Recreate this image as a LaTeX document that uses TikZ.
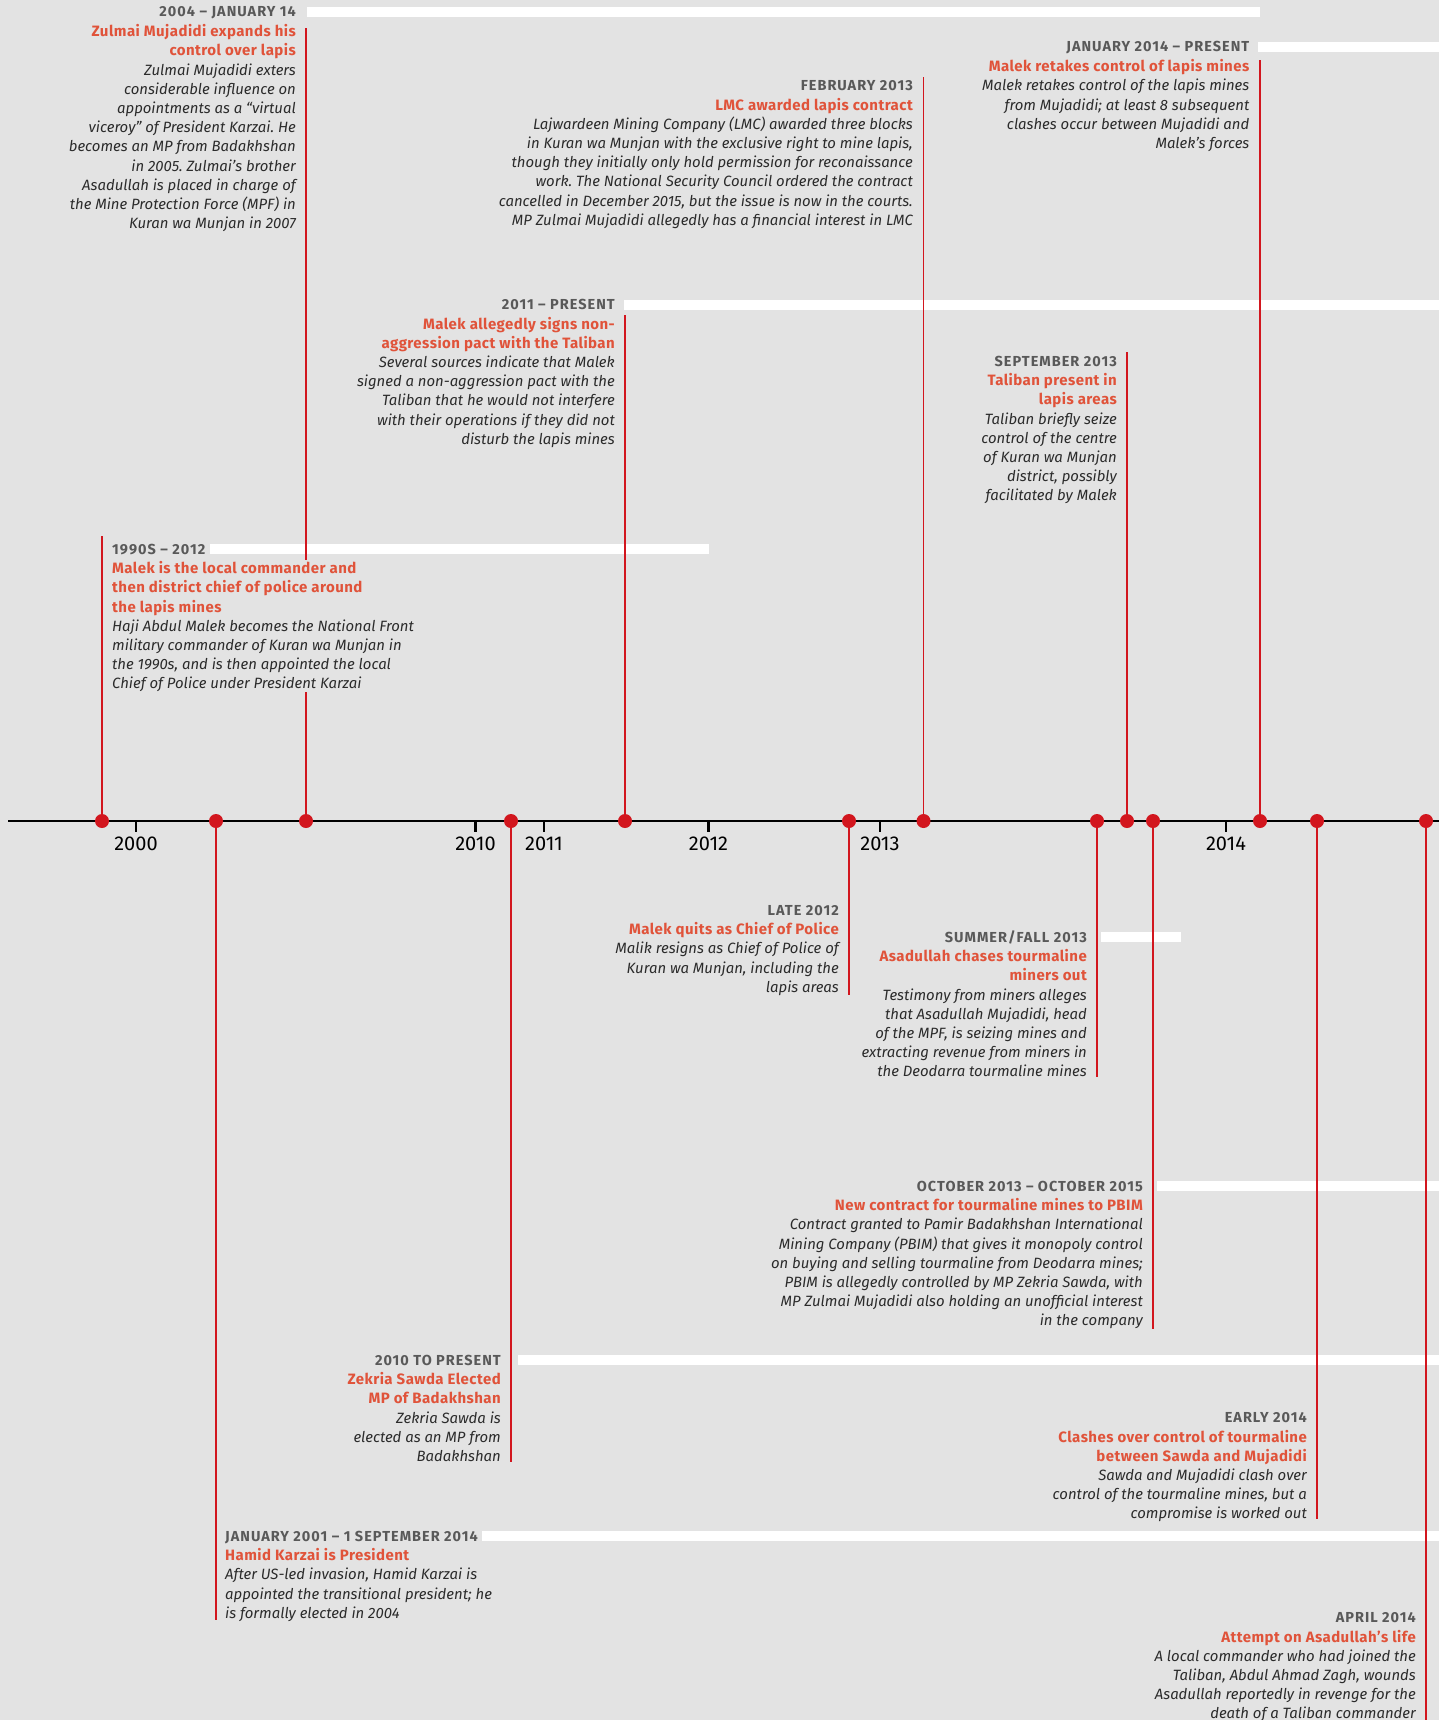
\documentclass[tikz,border=0pt]{standalone}
\usepackage{fontspec}
\setmainfont{Fira Sans}
\usetikzlibrary{positioning}

\definecolor{paper}{HTML}{E3E3E3}
\definecolor{dotred}{HTML}{D2161E}
\definecolor{titlered}{HTML}{E0533A}
\definecolor{headgray}{HTML}{595959}
\definecolor{bodygray}{HTML}{2B2B2B}

\frenchspacing
\newcommand{\evtitle}[1]{{\color{titlered}\fontsize{15}{19.2}\selectfont\upshape\bfseries\addfontfeatures{LetterSpace=3}#1}}

\tikzset{
  evdot/.style={circle,fill=dotred,minimum size=14pt,inner sep=0pt},
  stem/.style={draw=dotred,line width=1.3pt},
  span/.style={draw=white,line width=10pt},
  datehead/.style={inner sep=0pt,text=headgray,text height=10pt,text depth=0pt,
    font=\fontsize{14.5}{19.2}\selectfont\bfseries\addfontfeatures{LetterSpace=7}},
  blurb/.style={inner sep=0pt,text=bodygray,
    font=\fontsize{14.9}{19.2}\selectfont\itshape},
  tick/.style={line width=2.3pt},
  yearlbl/.style={inner sep=0pt,font=\fontsize{20}{22}\selectfont}
}

\begin{document}
\begin{tikzpicture}[x=1pt,y=-1pt]
        %% Background
        \fill[paper] (0,0) rectangle (1439,1720);
        \useasboundingbox (0,0) rectangle (1439,1720);
        \coordinate (rim) at (1439,0);
        %% Axis
        \draw[line width=2.5pt] (8,821) -- (1439,821);
        \coordinate (t2000) at (136,821);
        \coordinate (t2010) at (475.5,821);
        \coordinate (t2011) at (544,821);
        \coordinate (t2012) at (708.5,821);
        \coordinate (t2013) at (880,821);
        \coordinate (t2014) at (1226,821);
        \draw[tick] (t2000) -- ++(0,11);
        \draw[tick] (t2010) -- ++(0,11);
        \draw[tick] (t2011) -- ++(0,11);
        \draw[tick] (t2012) -- ++(0,11);
        \draw[tick] (t2013) -- ++(0,11);
        \draw[tick] (t2014) -- ++(0,11);
        \node[yearlbl,below=16pt of t2000] (y2000) {2000};
        \node[yearlbl,below=16pt of t2010] (y2010) {2010};
        \node[yearlbl,below=16pt of t2011] (y2011) {2011};
        \node[yearlbl,below=16pt of t2012] (y2012) {2012};
        \node[yearlbl,below=16pt of t2013] (y2013) {2013};
        \node[yearlbl,below=16pt of t2014] (y2014) {2014};
        %% Event dots
        \node[evdot] (dMalek) at (102,821) {};
        \node[evdot] (dKarzai) at (216,821) {};
        \node[evdot] (dZulmai) at (306,821) {};
        \node[evdot] (dSawda) at (511,821) {};
        \node[evdot] (dPact) at (625,821) {};
        \node[evdot] (dQuit) at (849,821) {};
        \node[evdot] (dLMC) at (923.5,821) {};
        \node[evdot] (dChase) at (1097,821) {};
        \node[evdot] (dTaliban) at (1127,821) {};
        \node[evdot] (dPBIM) at (1153,821) {};
        \node[evdot] (dRetake) at (1260,821) {};
        \node[evdot] (dClash) at (1317,821) {};
        \node[evdot] (dAttempt) at (1426,821) {};
        %% Date headers
        \node[datehead,anchor=east] (hZulmai) at (296,12) {2004 – JANUARY 14};
        \node[datehead,anchor=west] (hMalek) at (112,549) {1990S – 2012};
        \node[datehead,anchor=east] (hPact) at (615,304.5) {2011 – PRESENT};
        \node[datehead,anchor=east] (hLMC) at (913,85.5) {FEBRUARY 2013};
        \node[datehead,anchor=east] (hRetake) at (1249.5,47) {JANUARY 2014 – PRESENT};
        \node[datehead,anchor=east] (hTaliban) at (1117,361) {SEPTEMBER 2013};
        \node[datehead,anchor=east] (hQuit) at (839,910) {LATE 2012};
        \node[datehead,anchor=east] (hChase) at (1087,937) {SUMMER/FALL 2013};
        \node[datehead,anchor=east] (hPBIM) at (1143,1186) {OCTOBER 2013 – OCTOBER 2015};
        \node[datehead,anchor=east] (hSawda) at (501,1360) {2010 TO PRESENT};
        \node[datehead,anchor=east] (hClash) at (1307,1417.5) {EARLY 2014};
        \node[datehead,anchor=west] (hKarzai) at (225,1536) {JANUARY 2001 – 1 SEPTEMBER 2014};
        \node[datehead,anchor=east] (hAttempt) at (1416,1617.5) {APRIL 2014};
        %% Spans
        \draw[span] ([xshift=11pt]hZulmai.east) -- (hZulmai.east -| dRetake);
        \draw[span] ([xshift=4.5pt]hMalek.east) -- (hMalek.east -| t2012);
        \draw[span] ([xshift=9pt]hPact.east) -- (hPact.east -| rim);
        \draw[span] ([xshift=8.5pt]hRetake.east) -- (hRetake.east -| rim);
        \draw[span] ([xshift=14pt]hChase.east) -- (hChase.east -| dPBIM) -- ++(28,0);
        \draw[span] ([xshift=14pt]hPBIM.east) -- (hPBIM.east -| rim);
        \draw[span] ([xshift=17pt]hSawda.east) -- (hSawda.east -| rim);
        \draw[span] ([xshift=4pt]hKarzai.east) -- (hKarzai.east -| rim);
        %% Stems
        \coordinate (eZulmai) at (306,28);
        \coordinate (eMalek) at (102,536);
        \coordinate (ePact) at (625,315);
        \coordinate (eLMC) at (923.5,77);
        \coordinate (eRetake) at (1260,60);
        \coordinate (eTaliban) at (1127,352);
        \coordinate (eQuit) at (849,995);
        \coordinate (eChase) at (1097,1077);
        \coordinate (ePBIM) at (1153,1329);
        \coordinate (eSawda) at (511,1462);
        \coordinate (eClash) at (1317,1519);
        \coordinate (eKarzai) at (216,1620);
        \coordinate (eAttempt) at (1426,1720);
        \draw[stem] (dZulmai) -- (eZulmai);
        \draw[stem] (dMalek) -- (eMalek);
        \draw[stem] (dPact) -- (ePact);
        \draw[stem] (dLMC) -- (eLMC);
        \draw[stem] (dRetake) -- (eRetake);
        \draw[stem] (dTaliban) -- (eTaliban);
        \draw[stem] (dQuit) -- (eQuit);
        \draw[stem] (dChase) -- (eChase);
        \draw[stem] (dPBIM) -- (ePBIM);
        \draw[stem] (dSawda) -- (eSawda);
        \draw[stem] (dClash) -- (eClash);
        \draw[stem] (dKarzai) -- (eKarzai);
        \draw[stem] (dAttempt) -- (eAttempt);
        %% Blurbs above the axis
        \node[blurb,align=right,anchor=north east] (tZulmai) at ([yshift=-5.8pt]hZulmai.south east)
            {\strut\evtitle{Zulmai Mujadidi expands his}\\\evtitle{control over lapis}\\
             Zulmai Mujadidi exters\\considerable influence on\\appointments as a “virtual\\
             viceroy” of President Karzai. He\\becomes an MP from Badakhshan\\in 2005. Zulmai’s brother\\
             Asadullah is placed in charge of\\the Mine Protection Force (MPF) in\\Kuran wa Munjan in 2007};
        \node[blurb,align=left,anchor=north west,fill=paper] (tMalek) at ([yshift=-5.8pt]hMalek.south west)
            {\strut\evtitle{Malek is the local commander and}\\\evtitle{then district chief of police around}\\
             \evtitle{the lapis mines}\\Haji Abdul Malek becomes the National Front\\
             military commander of Kuran wa Munjan in\\the 1990s, and is then appointed the local\\
             Chief of Police under President Karzai};
        \node[blurb,align=right,anchor=north east] (tPact) at ([yshift=-5.8pt]hPact.south east)
            {\strut\evtitle{Malek allegedly signs non-}\\\evtitle{aggression pact with the Taliban}\\
             Several sources indicate that Malek\\signed a non-aggression pact with the\\
             Taliban that he would not interfere\\with their operations if they did not\\disturb the lapis mines};
        \node[blurb,align=right,anchor=north east] (tLMC) at ([yshift=-5.8pt]hLMC.south east)
            {\strut\evtitle{LMC awarded lapis contract}\\
             Lajwardeen Mining Company (LMC) awarded three blocks\\
             in Kuran wa Munjan with the exclusive right to mine lapis,\\
             though they initially only hold permission for reconaissance\\
             work. The National Security Council ordered the contract\\
             cancelled in December 2015, but the issue is now in the courts.\\
             MP Zulmai Mujadidi allegedly has a financial interest in LMC};
        \node[blurb,align=right,anchor=north east] (tRetake) at ([yshift=-5.8pt]hRetake.south east)
            {\strut\evtitle{Malek retakes control of lapis mines}\\
             Malek retakes control of the lapis mines\\from Mujadidi; at least 8 subsequent\\
             clashes occur between Mujadidi and\\Malek’s forces};
        \node[blurb,align=right,anchor=north east] (tTaliban) at ([yshift=-5.8pt]hTaliban.south east)
            {\strut\evtitle{Taliban present in}\\\evtitle{lapis areas}\\
             Taliban briefly seize\\control of the centre\\of Kuran wa Munjan\\district, possibly\\facilitated by Malek};
        %% Blurbs below the axis
        \node[blurb,align=right,anchor=north east] (tQuit) at ([yshift=-5.8pt]hQuit.south east)
            {\strut\evtitle{Malek quits as Chief of Police}\\
             Malik resigns as Chief of Police of\\Kuran wa Munjan, including the\\lapis areas};
        \node[blurb,align=right,anchor=north east] (tChase) at ([yshift=-5.8pt]hChase.south east)
            {\strut\evtitle{Asadullah chases tourmaline}\\\evtitle{miners out}\\
             Testimony from miners alleges\\that Asadullah Mujadidi, head\\of the MPF, is seizing mines and\\
             extracting revenue from miners in\\the Deodarra tourmaline mines};
        \node[blurb,align=right,anchor=north east] (tPBIM) at ([yshift=-5.8pt]hPBIM.south east)
            {\strut\evtitle{New contract for tourmaline mines to PBIM}\\
             Contract granted to Pamir Badakhshan International\\
             Mining Company (PBIM) that gives it monopoly control\\
             on buying and selling tourmaline from Deodarra mines;\\
             PBIM is allegedly controlled by MP Zekria Sawda, with\\
             MP Zulmai Mujadidi also holding an unofficial interest\\in the company};
        \node[blurb,align=right,anchor=north east] (tSawda) at ([yshift=-5.8pt]hSawda.south east)
            {\strut\evtitle{Zekria Sawda Elected}\\\evtitle{MP of Badakhshan}\\
             Zekria Sawda is\\elected as an MP from\\Badakhshan};
        \node[blurb,align=right,anchor=north east] (tClash) at ([yshift=-5.8pt]hClash.south east)
            {\strut\evtitle{Clashes over control of tourmaline}\\\evtitle{between Sawda and Mujadidi}\\
             Sawda and Mujadidi clash over\\control of the tourmaline mines, but a\\compromise is worked out};
        \node[blurb,align=left,anchor=north west] (tKarzai) at ([yshift=-5.8pt]hKarzai.south west)
            {\strut\evtitle{Hamid Karzai is President}\\
             After US-led invasion, Hamid Karzai is\\appointed the transitional president; he\\
             is formally elected in 2004};
        \node[blurb,align=right,anchor=north east] (tAttempt) at ([yshift=-5.8pt]hAttempt.south east)
            {\strut\evtitle{Attempt on Asadullah’s life}\\
             A local commander who had joined the\\Taliban, Abdul Ahmad Zagh, wounds\\
             Asadullah reportedly in revenge for the\\death of a Taliban commander};
    \end{tikzpicture}
\end{document}
